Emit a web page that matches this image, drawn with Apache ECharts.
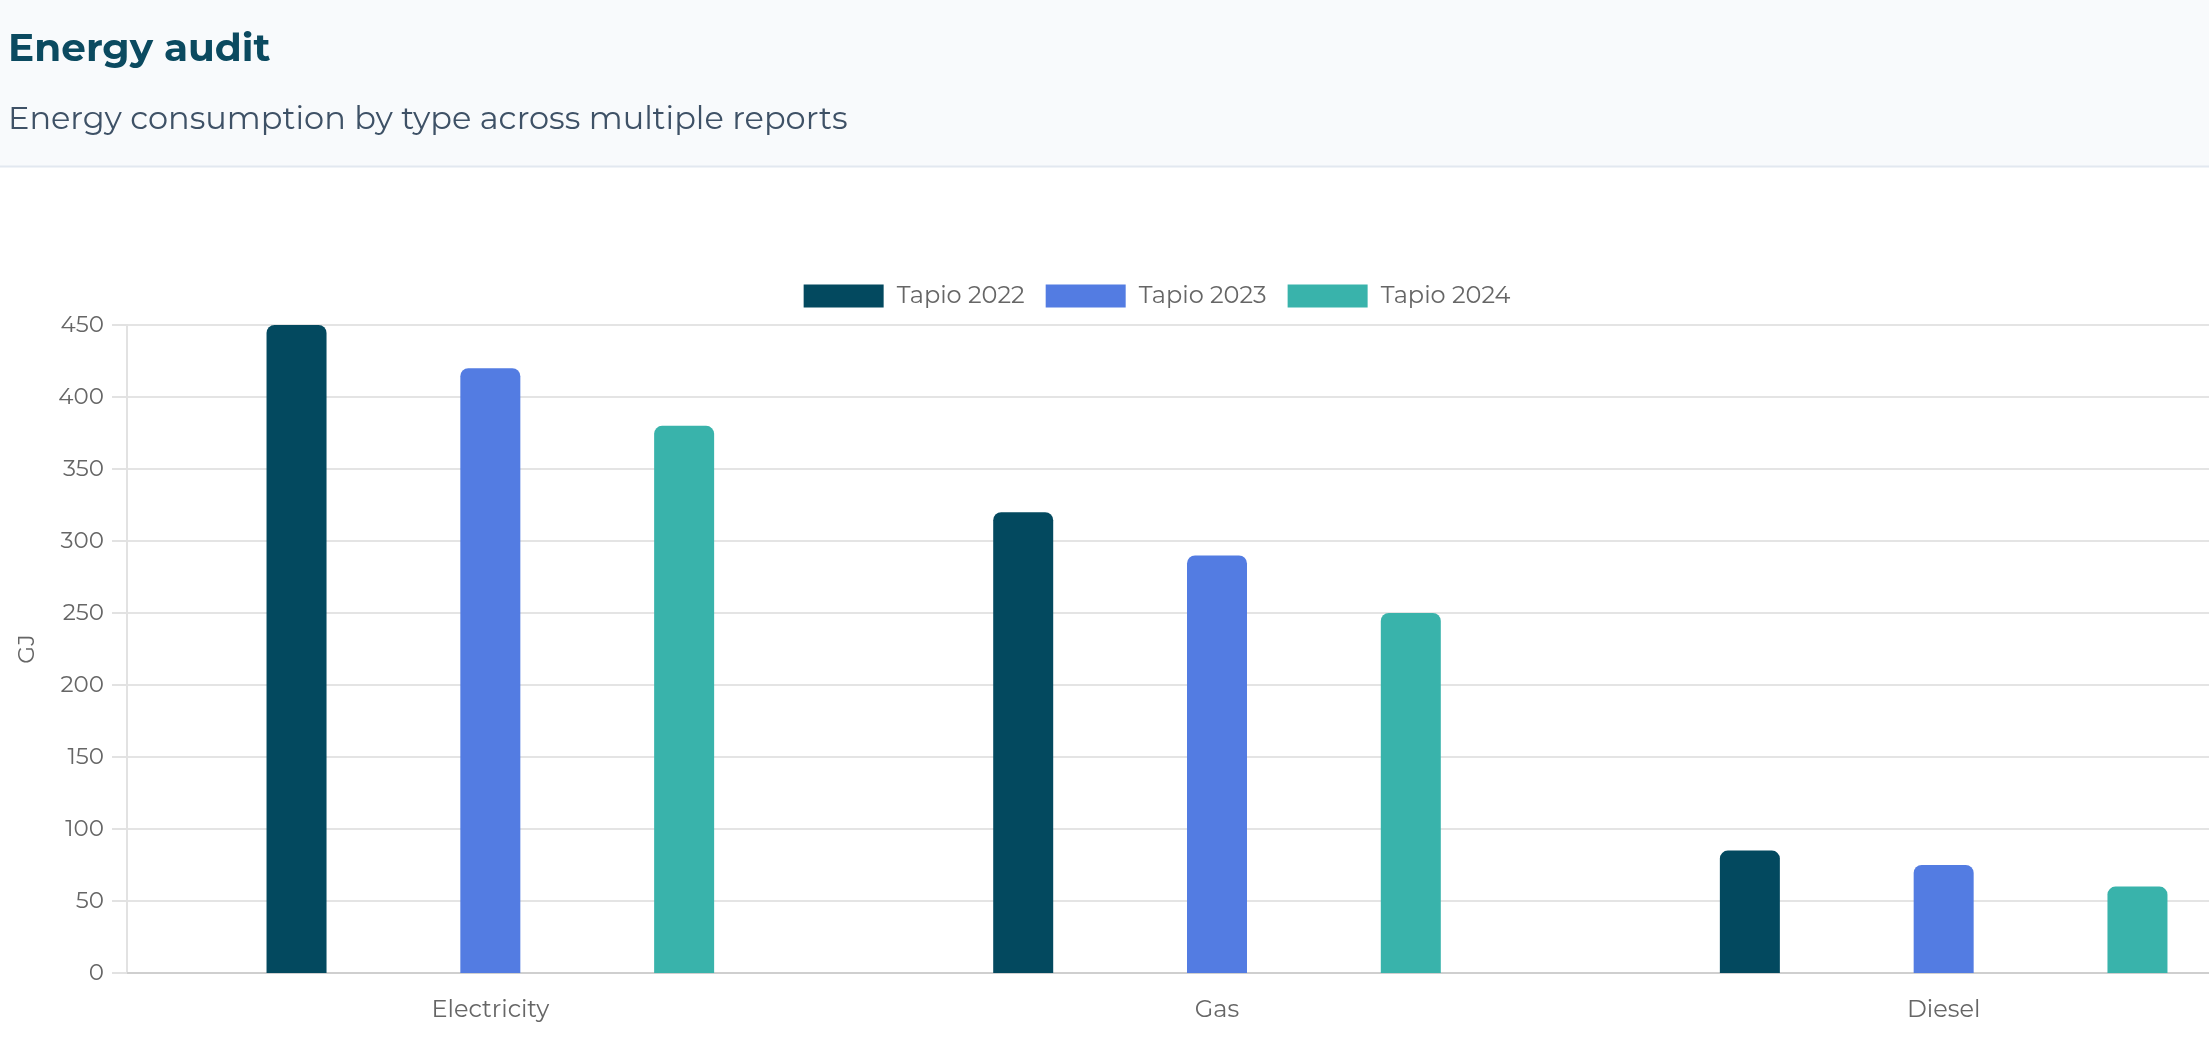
<!DOCTYPE html>
<html>
  <head>
    <meta charset="utf-8">
    <title>Energy audit</title>
    <style>
      html, body { margin: 0; padding: 0; background: #fff; overflow: hidden; }
      #main { width: 2314px; height: 1064px; }
    </style>
    <script src="https://cdn.jsdelivr.net/npm/echarts@6.0.0/dist/echarts.min.js"></script>
  </head>
  <body>
    <div id="main"></div>
    <script type="text/javascript">

      // data
      var energyTypes = ['Electricity', 'Gas', 'Diesel']
      var reportNames = ['Tapio 2022', 'Tapio 2023', 'Tapio 2024']
      var tapio2022 = [450, 320, 85]
      var tapio2023 = [420, 290, 75]
      var tapio2024 = [380, 250, 60]
      var yTicks = { min: 0, max: 450, interval: 50 }

      var colors = ['#03495f', '#537ce2', '#39b3ab']
      var font = 'Montserrat, Inter, sans-serif'

      // chart is a bit wider than the window, the right edge gets cut off like in the original
      var chart = echarts.init(document.getElementById('main'))

      var seriesData = [tapio2022, tapio2023, tapio2024]
      var series = reportNames.map(function (name, i) {
        return {
          name: name,
          type: 'bar',
          data: seriesData[i],
          barWidth: 60,
          barGap: '223%',
          itemStyle: { color: colors[i], borderRadius: [8, 8, 0, 0] }
        }
      })

      var option = {
        animation: false,
        textStyle: { fontFamily: font },
        // header band
        graphic: [
          { type: 'rect', z: -10, shape: { x: 0, y: 0, width: 2314, height: 166 }, style: { fill: '#f8fafc' } },
          { type: 'line', z: -9, shape: { x1: 0, y1: 166.5, x2: 2314, y2: 166.5 }, style: { stroke: '#e2e8f0', lineWidth: 2 } }
        ],
        title: [
          {
            text: 'Energy audit',
            left: 3, top: 25,
            textStyle: { fontFamily: font, fontSize: 39, fontWeight: 'bold', color: '#0b4a60' }
          },
          {
            text: 'Energy consumption by type across multiple reports',
            left: 3, top: 99,
            textStyle: { fontFamily: font, fontSize: 32, fontWeight: 'normal', color: '#3e5166' }
          }
        ],
        legend: {
          data: reportNames,
          left: 'center', top: 279,
          icon: 'rect',
          itemWidth: 80, itemHeight: 23, itemGap: 21,
          textStyle: { fontFamily: font, fontSize: 24, color: '#666', padding: [0, 0, 0, 8] }
        },
        grid: { left: 127, right: 7, top: 325, bottom: 91 },
        xAxis: {
          type: 'category',
          data: energyTypes,
          axisLine: { lineStyle: { color: '#cfcfcf', width: 2 } },
          axisTick: { show: false },
          axisLabel: { fontFamily: font, fontSize: 24, color: '#666', margin: 25 }
        },
        yAxis: {
          type: 'value',
          min: yTicks.min, max: yTicks.max, interval: yTicks.interval,
          name: 'GJ',
          nameLocation: 'middle',
          nameGap: 88,
          nameTextStyle: { fontFamily: font, fontSize: 23, color: '#666' },
          axisLine: { show: true, lineStyle: { color: '#e2e2e2', width: 2 } },
          axisTick: { show: true, length: 15, lineStyle: { color: '#e2e2e2', width: 2 } },
          axisLabel: { fontFamily: font, fontSize: 23, color: '#666', margin: 23 },
          splitLine: { lineStyle: { color: '#e4e4e4', width: 2 } }
        },
        series: series
      }

      chart.setOption(option)
    </script>
  </body>
</html>
